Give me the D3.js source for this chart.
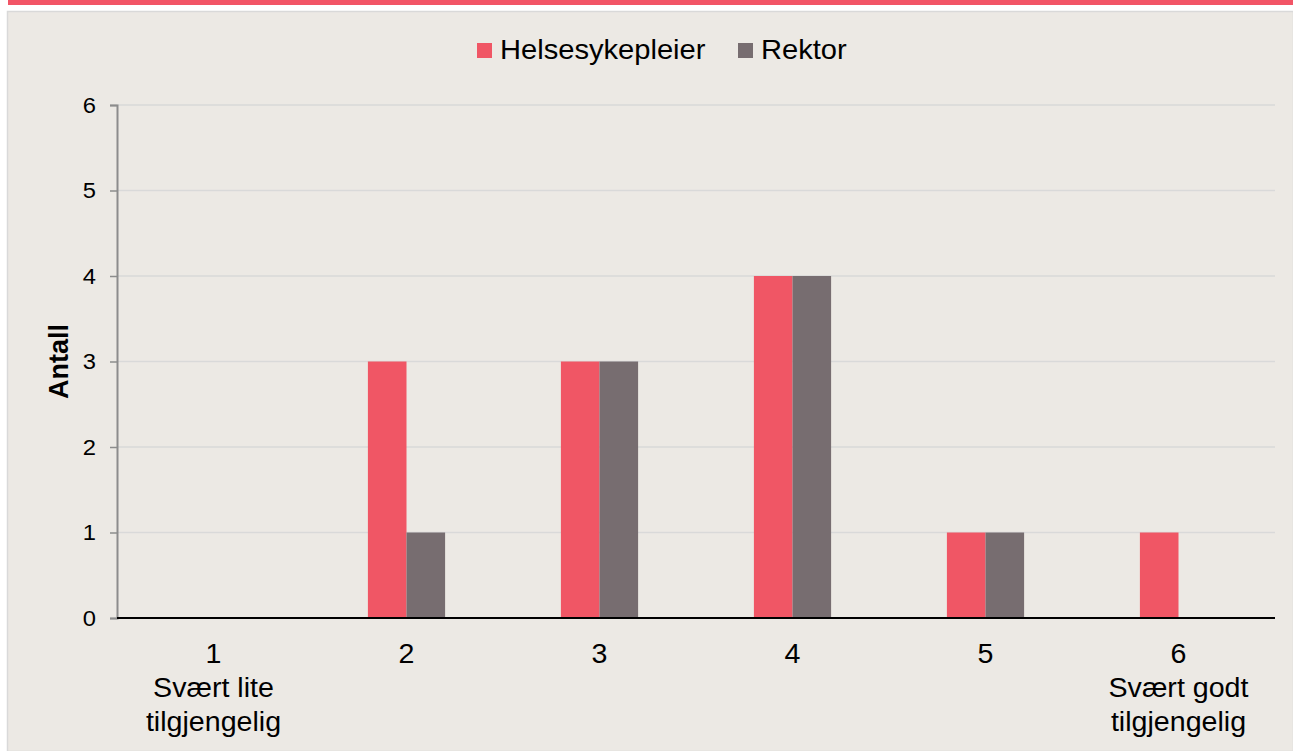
<!DOCTYPE html>
<html>
<head>
<meta charset="utf-8">
<script src="https://cdn.jsdelivr.net/npm/d3@7"></script>
<style>
  body { margin: 0; background: #fff; }
  text { font-family: Arial, "Liberation Sans", sans-serif; fill: #000; }
</style>
</head>
<body>
<div id="chart"></div>
<script>
// data
var categories = ["1", "2", "3", "4", "5", "6"];
var categoryNotes = [["Svært lite", "tilgjengelig"], [], [], [], [], ["Svært godt", "tilgjengelig"]];
var seriesNames = ["Helsesykepleier", "Rektor"];
var helsesykepleier = [0, 3, 3, 4, 1, 1];
var rektor = [0, 1, 3, 4, 1, 0];
var yTicks = [0, 1, 2, 3, 4, 5, 6];
var colors = ["#F05665", "#776D70"];

var W = 1293, H = 751;
var plot = {left: 117, right: 1275, top: 105, bottom: 618};

var svg = d3.select("#chart").append("svg")
    .attr("width", W)
    .attr("height", H);

// top band + panel
svg.append("rect").attr("x", 8).attr("y", 0).attr("width", W - 8).attr("height", 5).attr("fill", "#F25566");
svg.append("rect").attr("x", 7.5).attr("y", 11.5).attr("width", W - 7).attr("height", H - 11)
    .attr("fill", "#ECE9E4").attr("stroke", "#D9D9D9").attr("stroke-width", 1.5);

var x0 = d3.scaleBand().domain(categories).range([plot.left, plot.right]).padding(0);
var groupW = x0.bandwidth() * 0.4;
var x1 = d3.scaleBand().domain(seriesNames)
    .range([(x0.bandwidth() - groupW) / 2, (x0.bandwidth() + groupW) / 2]);
var y = d3.scaleLinear().domain([0, 6]).range([plot.bottom, plot.top]);

// gridlines
svg.append("g").selectAll("line").data(yTicks.filter(function(d) { return d > 0; }))
  .enter().append("line")
    .attr("x1", plot.left).attr("x2", plot.right)
    .attr("y1", function(d) { return y(d); }).attr("y2", function(d) { return y(d); })
    .attr("stroke", "#D9D9D9").attr("stroke-width", 1.5);

// bars
var rows = categories.map(function(c, i) {
  return {cat: c, values: [helsesykepleier[i], rektor[i]]};
});
var groups = svg.append("g").selectAll("g").data(rows).enter().append("g")
    .attr("transform", function(d) { return "translate(" + x0(d.cat) + ",0)"; });
groups.selectAll("rect")
  .data(function(d) { return d.values.map(function(v, j) { return {name: seriesNames[j], v: v, j: j}; }); })
  .enter().append("rect")
    .filter(function(d) { return d.v > 0; })
    .attr("x", function(d) { return x1(d.name); })
    .attr("width", x1.bandwidth())
    .attr("y", function(d) { return y(d.v); })
    .attr("height", function(d) { return y(0) - y(d.v); })
    .attr("fill", function(d) { return colors[d.j]; });

// y axis
var tickStretch = 1.08;
var yAxis = d3.axisLeft(y).tickValues(yTicks).tickSize(7).tickPadding(14).tickFormat(d3.format("d"));
var yg = svg.append("g").attr("transform", "translate(" + plot.left + ",0)").call(yAxis);
yg.select(".domain").attr("stroke", "#8C8C8C").attr("stroke-width", 2);
yg.selectAll(".tick line").attr("stroke", "#8C8C8C").attr("stroke-width", 1.5);
yg.selectAll(".tick text")
    .attr("font-size", 22).attr("fill", "#000")
    .attr("x", -21 / tickStretch)
    .attr("transform", "scale(" + tickStretch + ",1)");

// x axis line
svg.append("line").attr("x1", plot.left).attr("x2", plot.right)
    .attr("y1", y(0)).attr("y2", y(0)).attr("stroke", "#000").attr("stroke-width", 2);

// x labels
var catStretch = 1.06;
var xl = svg.append("g").selectAll("text").data(categories).enter().append("text")
    .attr("transform", function(d) {
      return "translate(" + (x0(d) + x0.bandwidth() / 2) + ",663) scale(" + catStretch + ",1)";
    })
    .attr("text-anchor", "middle")
    .attr("font-size", 27);
xl.append("tspan").text(function(d) { return d; });
xl.each(function(d, i) {
  var t = d3.select(this);
  categoryNotes[i].forEach(function(line) {
    t.append("tspan").attr("x", 0).attr("dy", 34).text(line);
  });
});

// y title
svg.append("text")
    .attr("transform", "translate(68," + ((plot.top + plot.bottom) / 2) + ") rotate(-90)")
    .attr("text-anchor", "middle")
    .attr("font-size", 27)
    .attr("font-weight", "bold")
    .text("Antall");

// legend
var legendPos = [477, 738];
var lg = svg.append("g").selectAll("g").data(seriesNames).enter().append("g")
    .attr("transform", function(d, i) { return "translate(" + legendPos[i] + ",43)"; });
lg.append("rect").attr("width", 15).attr("height", 15).attr("fill", function(d, i) { return colors[i]; });
lg.append("text")
    .attr("transform", "translate(23,16) scale(1.04,1)")
    .attr("font-size", 28)
    .text(function(d) { return d; });
</script>
</body>
</html>
